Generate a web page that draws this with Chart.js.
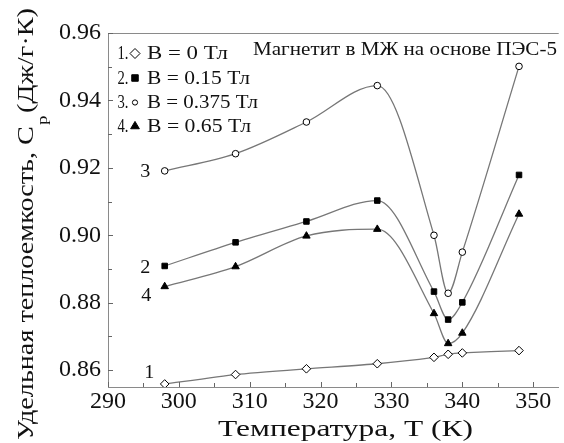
<!DOCTYPE html>
<html>
<head>
<meta charset="utf-8">
<script src="https://cdn.jsdelivr.net/npm/chart.js@4.4.1/dist/chart.umd.min.js"></script>
<style>
  html, body { margin: 0; padding: 0; background: #fff; }
  #wrap { width: 564px; height: 443px; }
</style>
</head>
<body>
<div id="wrap"><canvas id="c" width="564" height="443"></canvas></div>
<script>
// Temperature points, K
const temps = [298, 308, 318, 328, 336, 338, 340, 348];
// Specific heat capacity, J/(g·K), for each field strength
const cpB0    = [0.8559, 0.8587, 0.8604, 0.8619, 0.8638, 0.8647, 0.8651, 0.8658];
const cpB015  = [0.8909, 0.8979, 0.9041, 0.9103, 0.8833, 0.8750, 0.8801, 0.9179];
const cpB0375 = [0.9191, 0.9242, 0.9336, 0.9444, 0.9000, 0.8828, 0.8950, 0.9501];
const cpB065  = [0.8848, 0.8907, 0.8998, 0.9018, 0.8768, 0.8679, 0.8710, 0.9063];

const curveNumbers = ['1', '2', '3', '4'];
const legendLabels = ['B = 0 Тл', 'B = 0.15 Тл', 'B = 0.375 Тл', 'B = 0.65 Тл'];
const headerText = 'Магнетит в МЖ на основе ПЭС-5';
const xTitle = 'Температура, Т (К)';
const yTitleMain = 'Удельная теплоемкость, C';
const yTitleSub = 'p';
const yTitleTail = '(Дж/г·К)';

const SERIF = '"Liberation Serif", "Times New Roman", serif';
const LINE = '#777';
const TEXT = '#111';

const toXY = arr => arr.map((v, i) => ({ x: temps[i], y: v }));

const markers = [
  { style: 'rectRot', r: 4.3, fill: '#fff' },
  { style: 'rect', r: 3.9, fill: '#000' },
  { style: 'circle', r: 3.3, fill: '#fff' },
  { style: 'triangle', r: 4.3, fill: '#000' }
];

function drawMarker(ctx, style, x, y, r, fill) {
  ctx.save();
  ctx.beginPath();
  if (style === 'rectRot') {
    ctx.moveTo(x, y - r); ctx.lineTo(x + r, y); ctx.lineTo(x, y + r); ctx.lineTo(x - r, y); ctx.closePath();
  } else if (style === 'rect') {
    const s = r * Math.SQRT1_2;
    ctx.rect(x - s, y - s, 2 * s, 2 * s);
  } else if (style === 'circle') {
    ctx.arc(x, y, r, 0, Math.PI * 2);
  } else if (style === 'triangle') {
    ctx.moveTo(x, y - r); ctx.lineTo(x + r * 0.95, y + r * 0.6); ctx.lineTo(x - r * 0.95, y + r * 0.6); ctx.closePath();
  }
  ctx.fillStyle = fill;
  ctx.fill();
  ctx.lineWidth = 1;
  ctx.strokeStyle = '#000';
  ctx.stroke();
  ctx.restore();
}

// Draw a line of text starting at x (baseline y), widened to a given width
function wideText(ctx, text, x, y, size, width) {
  ctx.save();
  ctx.font = size + 'px ' + SERIF;
  ctx.fillStyle = TEXT;
  ctx.textAlign = 'left';
  ctx.textBaseline = 'alphabetic';
  const w = ctx.measureText(text).width;
  ctx.translate(x, y);
  ctx.scale(width / w, 1);
  ctx.fillText(text, 0, 0);
  ctx.restore();
}

const decorPlugin = {
  id: 'decor',
  afterDraw(chart) {
    const ctx = chart.ctx;
    const xs = chart.scales.x, ys = chart.scales.y;
    const area = chart.chartArea;
    ctx.save();
    // top frame line
    ctx.strokeStyle = '#8a8a8a';
    ctx.lineWidth = 1;
    ctx.beginPath();
    ctx.moveTo(area.left, area.top + 0.5);
    ctx.lineTo(area.right, area.top + 0.5);
    ctx.stroke();

    // inward tick marks, major and minor
    ctx.strokeStyle = '#666';
    for (let t = 290; t <= 353; t += 5) {
      const px = Math.round(xs.getPixelForValue(t)) + 0.5;
      const len = (t % 10 === 0) ? 5 : 4;
      ctx.beginPath(); ctx.moveTo(px, area.bottom); ctx.lineTo(px, area.bottom - len); ctx.stroke();
    }
    for (let k = 86; k <= 96; k += 1) {
      const py = Math.round(ys.getPixelForValue(k / 100)) + 0.5;
      const len = (k % 2 === 0) ? 5 : 4;
      ctx.beginPath(); ctx.moveTo(area.left, py); ctx.lineTo(area.left + len, py); ctx.stroke();
    }

    // legend block
    const legBase = [59, 83.5, 108, 131.5];
    const legEnd = [228, 250, 258, 251];
    const legR = [5, 4.6, 2.6, 4.6];
    legendLabels.forEach((lab, i) => {
      wideText(ctx, curveNumbers[i] + '.', 117.5, legBase[i], 18, 11);
      const m = markers[i];
      drawMarker(ctx, m.style, 135, legBase[i] - 5.5, legR[i], m.fill);
      wideText(ctx, lab, 147, legBase[i], 18, legEnd[i] - 147);
    });

    // header text
    wideText(ctx, headerText, 253, 54.5, 18, 304);

    // curve numbers beside first points
    const firsts = [cpB0[0], cpB015[0], cpB0375[0], cpB065[0]];
    const offs = [[-15.5, -12], [-19.5, 1], [-19.5, 0], [-18.5, 8]];
    ctx.font = '18px ' + SERIF;
    ctx.fillStyle = TEXT;
    ctx.textAlign = 'center';
    ctx.textBaseline = 'alphabetic';
    firsts.forEach((v, i) => {
      const px = xs.getPixelForValue(temps[0]);
      const py = ys.getPixelForValue(v);
      ctx.save();
      ctx.translate(px + offs[i][0], py + offs[i][1] + 6);
      ctx.scale(1.12, 1);
      ctx.fillText(curveNumbers[i], 0, 0);
      ctx.restore();
    });

    // x axis title
    wideText(ctx, xTitle, 218, 435.5, 22.5, 255);

    // y axis title with subscript, reading bottom to top
    ctx.save();
    ctx.translate(33, 440);
    ctx.rotate(-Math.PI / 2);
    ctx.fillStyle = TEXT;
    ctx.textAlign = 'left';
    ctx.textBaseline = 'alphabetic';
    ctx.font = '22.5px ' + SERIF;
    const w1 = ctx.measureText(yTitleMain).width;
    const w3 = ctx.measureText(yTitleTail).width;
    ctx.font = '15px ' + SERIF;
    const w2 = ctx.measureText(yTitleSub).width;
    const gap = 3;
    const total = w1 + w2 + gap + w3;
    ctx.scale(432 / total, 1);
    ctx.font = '22.5px ' + SERIF;
    ctx.fillText(yTitleMain, 0, 0);
    ctx.fillText(yTitleTail, w1 + w2 + gap, 0);
    ctx.font = '15px ' + SERIF;
    ctx.fillText(yTitleSub, w1 + 1, 14);
    ctx.restore();

    ctx.restore();
  }
};

function ds(data, m, mode, tension) {
  return {
    data: toXY(data),
    borderColor: LINE,
    borderWidth: 1.3,
    pointStyle: m.style,
    pointRadius: m.r,
    pointBackgroundColor: m.fill,
    pointBorderColor: '#000',
    pointBorderWidth: 1,
    cubicInterpolationMode: mode,
    tension: tension,
    fill: false
  };
}

new Chart(document.getElementById('c'), {
  type: 'line',
  data: {
    datasets: [
      ds(cpB0, markers[0], 'default', 0.2),
      ds(cpB015, markers[1], 'monotone', 0.4),
      ds(cpB0375, markers[2], 'monotone', 0.4),
      ds(cpB065, markers[3], 'monotone', 0.4)
    ]
  },
  options: {
    responsive: false,
    animation: false,
    layout: { padding: { top: 33, right: 0, left: 0, bottom: 0 } },
    plugins: { legend: { display: false }, tooltip: { enabled: false } },
    scales: {
      x: {
        type: 'linear',
        min: 290, max: 353.6,
        grid: { display: false, drawTicks: false },
        border: { display: true, color: '#8a8a8a', width: 1 },
        ticks: {
          stepSize: 10, includeBounds: false, padding: 0,
          color: TEXT, font: { family: SERIF, size: 24 }
        },
        afterFit(s) { s.height = 56; }
      },
      y: {
        min: 0.855, max: 0.96,
        grid: { display: false, drawTicks: false },
        border: { display: true, color: '#8a8a8a', width: 1 },
        ticks: {
          stepSize: 0.02, includeBounds: false, padding: 7,
          color: TEXT, font: { family: SERIF, size: 24 },
          callback: v => v.toFixed(2)
        },
        afterFit(s) { s.width = 108; }
      }
    }
  },
  plugins: [decorPlugin]
});
</script>
</body>
</html>
